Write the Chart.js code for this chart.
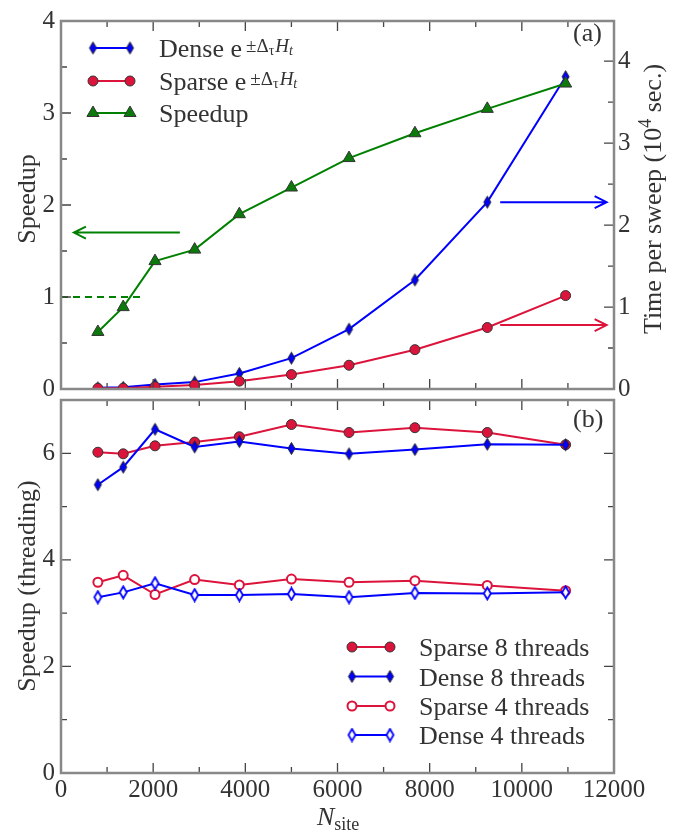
<!DOCTYPE html>
<html>
<head>
<meta charset="utf-8">
<script src="https://cdn.jsdelivr.net/npm/chart.js@4.4.0/dist/chart.umd.min.js"></script>
<style>
  html, body { margin: 0; padding: 0; background: #fff; }
  #wrap { position: relative; width: 695px; height: 836px; }
  #wrap canvas { position: absolute; left: 0; top: 0; }
</style>
</head>
<body>
<div id="wrap">
  <canvas id="topChart" width="695" height="836"></canvas>
  <canvas id="bottomChart" width="695" height="836"></canvas>
</div>
<script>
// N_site values (shared by both panels)
const nSite = [800, 1350, 2040, 2900, 3870, 5000, 6250, 7680, 9250, 10950];

// panel (a): time per sweep (10^4 sec.) and speedup
const denseTime = [0.015, 0.02, 0.056, 0.084, 0.19, 0.376, 0.73, 1.33, 2.28, 3.81];
const sparseTime = [0.008, 0.01, 0.028, 0.048, 0.096, 0.176, 0.29, 0.48, 0.75, 1.14];
const speedup = [0.62, 0.89, 1.39, 1.515, 1.90, 2.19, 2.51, 2.78, 3.045, 3.32];

// panel (b): threading speedup
const sparse8 = [6.02, 5.99, 6.14, 6.21, 6.31, 6.54, 6.39, 6.48, 6.39, 6.16];
const dense8 = [5.41, 5.74, 6.45, 6.12, 6.22, 6.09, 5.99, 6.07, 6.17, 6.16];
const sparse4 = [3.58, 3.71, 3.35, 3.63, 3.53, 3.64, 3.58, 3.61, 3.52, 3.42];
const dense4 = [3.30, 3.39, 3.56, 3.34, 3.34, 3.36, 3.30, 3.38, 3.37, 3.39];

// ticks
const xTicks = [0, 2000, 4000, 6000, 8000, 10000, 12000];
const xMinor = [1000, 3000, 5000, 7000, 9000, 11000];
const speedTicks = [0, 1, 2, 3, 4];
const speedMinor = [0.5, 1.5, 2.5, 3.5];
const timeTicks = [0, 1, 2, 3, 4];
const timeMinor = [0.5, 1.5, 2.5, 3.5];
const threadTicks = [0, 2, 4, 6];
const threadMinor = [1, 3, 5];

// reference line (speedup = 1) and arrows, in data units
const unityX = [0, 1780];
const unityLevel = 1;
const arrowFrom = [2580, 9530, 9530];
const arrowTo = [280, 11840, 11840];
const arrowLevel = [1.7, 2.28, 0.78];
const arrowAxis = ['y', 'y1', 'y1'];

const BLUE = '#0000ff', RED = '#dc143c', GREEN = '#008000';
const TEXT = '#333', FRAME = '#888';
const FONT = '"Liberation Serif", "DejaVu Serif", serif';

Chart.defaults.font.family = FONT;
Chart.defaults.color = TEXT;

function pts(ys) { return nSite.map((x, i) => ({ x: x, y: ys[i] })); }

function makeDiamond(fill, stroke, lw) {
  const c = document.createElement('canvas');
  c.width = 11; c.height = 15;
  const g = c.getContext('2d');
  g.beginPath();
  g.moveTo(5.5, 1.5); g.lineTo(9, 7.5); g.lineTo(5.5, 13.5); g.lineTo(2, 7.5); g.closePath();
  g.fillStyle = fill; g.fill();
  g.lineWidth = lw; g.strokeStyle = stroke; g.stroke();
  return c;
}
const diamondFull = makeDiamond(BLUE, '#222', 1);
const diamondOpen = makeDiamond('#fff', BLUE, 1.8);

function drawMarker(ctx, ds, x, y) {
  const st = ds.pointStyle;
  if (typeof st !== 'string') { ctx.drawImage(st, x - st.width / 2, y - st.height / 2); return; }
  ctx.fillStyle = ds.pointBackgroundColor;
  ctx.strokeStyle = ds.pointBorderColor;
  ctx.lineWidth = ds.pointBorderWidth;
  Chart.helpers.drawPoint(ctx, { pointStyle: st, radius: ds.pointRadius, rotation: 0, borderWidth: ds.pointBorderWidth }, x, y);
}

function drawRich(ctx, x, y, parts) {
  parts.forEach(p => {
    ctx.font = (p.italic ? 'italic ' : '') + p.size + 'px ' + FONT;
    x += p.dx || 0;
    ctx.fillText(p.t, x, y + (p.dy || 0));
    x += ctx.measureText(p.t).width;
  });
  return x;
}
function richWidth(ctx, parts) {
  let w = 0;
  parts.forEach(p => {
    ctx.font = (p.italic ? 'italic ' : '') + p.size + 'px ' + FONT;
    w += (p.dx || 0) + ctx.measureText(p.t).width;
  });
  return w;
}

function expParts(word) {
  return [
    { t: word + ' e', size: 26 },
    { t: '\u00b1\u0394', size: 19, dy: -5, dx: 4 },
    { t: '\u03c4', size: 14, dy: -2 },
    { t: 'H', size: 19, italic: true, dy: -5, dx: 1 },
    { t: 't', size: 14, italic: true, dy: -2 }
  ];
}

// frame with inward ticks on all four sides
function drawFrame(chart, left, right) {
  const { ctx, chartArea: a, scales } = chart;
  ctx.save();
  ctx.strokeStyle = '#444';
  ctx.lineWidth = 1.3;
  ctx.beginPath();
  const tick = (x1, y1, x2, y2) => { ctx.moveTo(x1, y1); ctx.lineTo(x2, y2); };
  const sx = scales.x;
  xTicks.forEach(v => { const p = sx.getPixelForValue(v); tick(p, a.top, p, a.top + 10); tick(p, a.bottom, p, a.bottom - 10); });
  xMinor.forEach(v => { const p = sx.getPixelForValue(v); tick(p, a.top, p, a.top + 6); tick(p, a.bottom, p, a.bottom - 6); });
  const sl = scales[left.id], sr = scales[right.id];
  left.major.forEach(v => { const p = sl.getPixelForValue(v); tick(a.left, p, a.left + 10, p); });
  left.minor.forEach(v => { const p = sl.getPixelForValue(v); tick(a.left, p, a.left + 6, p); });
  right.major.forEach(v => { const p = sr.getPixelForValue(v); tick(a.right, p, a.right - 10, p); });
  right.minor.forEach(v => { const p = sr.getPixelForValue(v); tick(a.right, p, a.right - 6, p); });
  ctx.stroke();
  ctx.strokeStyle = FRAME;
  ctx.lineWidth = 2.5;
  ctx.strokeRect(a.left, a.top, a.right - a.left, a.bottom - a.top);
  ctx.restore();
}

function drawArrow(ctx, x1, x2, y, color) {
  const dir = x2 > x1 ? 1 : -1;
  ctx.save();
  ctx.strokeStyle = color;
  ctx.lineWidth = 2;
  ctx.beginPath();
  ctx.moveTo(x1, y); ctx.lineTo(x2, y);
  ctx.moveTo(x2 - dir * 12, y - 6); ctx.lineTo(x2, y); ctx.lineTo(x2 - dir * 12, y + 6);
  ctx.stroke();
  ctx.restore();
}

const topPlugin = {
  id: 'topPanel',
  afterDraw(chart) {
    const { ctx, scales } = chart;
    drawFrame(chart, { id: 'y', major: speedTicks, minor: speedMinor }, { id: 'y1', major: timeTicks, minor: timeMinor });

    const colors = [GREEN, BLUE, RED];
    arrowFrom.forEach((f, i) => {
      const y = scales[arrowAxis[i]].getPixelForValue(arrowLevel[i]);
      drawArrow(ctx, scales.x.getPixelForValue(f), scales.x.getPixelForValue(arrowTo[i]), y, colors[i]);
    });

    // legend
    ctx.save();
    ctx.fillStyle = TEXT;
    ctx.textBaseline = 'alphabetic';
    const ds = chart.data.datasets;
    const rows = [[ds[0], 48, expParts('Dense')], [ds[1], 81, expParts('Sparse')], [ds[2], 113, [{ t: 'Speedup', size: 26 }]]];
    rows.forEach(([d, y, parts]) => {
      ctx.strokeStyle = d.borderColor; ctx.lineWidth = 2;
      ctx.beginPath(); ctx.moveTo(93, y); ctx.lineTo(130, y); ctx.stroke();
      drawMarker(ctx, d, 93, y); drawMarker(ctx, d, 130, y);
      ctx.fillStyle = TEXT;
      drawRich(ctx, 159, y + 9, parts);
    });

    ctx.font = '26px ' + FONT;
    ctx.fillText('(a)', 573, 41);

    // axis titles
    ctx.save();
    ctx.translate(35, 199);
    ctx.rotate(-Math.PI / 2);
    ctx.textAlign = 'center';
    ctx.fillText('Speedup', 0, 0);
    ctx.restore();

    const rt = [{ t: 'Time per sweep (10', size: 26 }, { t: '4', size: 18, dy: -10 }, { t: ' sec.)', size: 26 }];
    ctx.save();
    ctx.translate(661, 199);
    ctx.rotate(-Math.PI / 2);
    drawRich(ctx, -richWidth(ctx, rt) / 2, 0, rt);
    ctx.restore();
    ctx.restore();
  }
};

const bottomPlugin = {
  id: 'bottomPanel',
  afterDraw(chart) {
    const { ctx } = chart;
    drawFrame(chart, { id: 'y', major: threadTicks, minor: threadMinor }, { id: 'y', major: threadTicks, minor: threadMinor });

    ctx.save();
    ctx.textBaseline = 'alphabetic';
    const ds = chart.data.datasets;
    const ys = [647, 676.5, 706, 735];
    ds.forEach((d, i) => {
      const y = ys[i];
      ctx.strokeStyle = d.borderColor; ctx.lineWidth = 2;
      ctx.beginPath(); ctx.moveTo(352, y); ctx.lineTo(390, y); ctx.stroke();
      drawMarker(ctx, d, 352, y); drawMarker(ctx, d, 390, y);
      ctx.fillStyle = TEXT;
      ctx.font = '26px ' + FONT;
      ctx.fillText(d.label, 419, y + 9);
    });

    ctx.fillStyle = TEXT;
    ctx.font = '26px ' + FONT;
    ctx.fillText('(b)', 573, 427);

    ctx.save();
    ctx.translate(35, 586);
    ctx.rotate(-Math.PI / 2);
    ctx.textAlign = 'center';
    ctx.fillText('Speedup (threading)', 0, 0);
    ctx.restore();

    drawRich(ctx, 317, 825, [{ t: 'N', size: 26, italic: true }, { t: 'site', size: 18, dy: 5 }]);
    ctx.restore();
  }
};

const tickFont = { family: FONT, size: 25 };
const noGrid = { display: false, drawTicks: false };
const setTicks = list => s => { s.ticks = list.map(v => ({ value: v })); };
const plain = v => String(v);

new Chart(document.getElementById('topChart'), {
  type: 'line',
  data: {
    datasets: [
      { label: 'Dense', data: pts(denseTime), yAxisID: 'y1', borderColor: BLUE, borderWidth: 2,
        pointStyle: diamondFull, pointRadius: 6, order: 3 },
      { label: 'Sparse', data: pts(sparseTime), yAxisID: 'y1', borderColor: RED, borderWidth: 2,
        pointStyle: 'circle', pointRadius: 5, pointBackgroundColor: RED, pointBorderColor: '#333', pointBorderWidth: 1, order: 2 },
      { label: 'Speedup', data: pts(speedup), yAxisID: 'y', borderColor: GREEN, borderWidth: 2,
        pointStyle: 'triangle', pointRadius: 7, pointBackgroundColor: '#0b7a0b', pointBorderColor: '#333', pointBorderWidth: 1, order: 1 },
      { label: 'unity', data: unityX.map(x => ({ x: x, y: unityLevel })), yAxisID: 'y', borderColor: GREEN, borderWidth: 2,
        borderDash: [7, 5], pointRadius: 0, order: 4 }
    ]
  },
  options: {
    responsive: false,
    animation: false,
    events: [],
    layout: { padding: { top: 15 } },
    plugins: { legend: { display: false }, tooltip: { enabled: false } },
    scales: {
      x: { type: 'linear', min: 0, max: 12000, grid: noGrid, border: { display: false },
        ticks: { display: false }, afterFit: s => { s.height = 447; } },
      y: { position: 'left', min: 0, max: 4, grid: noGrid, border: { display: false },
        ticks: { font: tickFont, padding: 6, callback: plain }, afterBuildTicks: setTicks(speedTicks), afterFit: s => { s.width = 61; } },
      y1: { position: 'right', min: 0, max: 4.49, grid: noGrid, border: { display: false },
        ticks: { font: tickFont, padding: 4, callback: plain }, afterBuildTicks: setTicks(timeTicks), afterFit: s => { s.width = 81; } }
    }
  },
  plugins: [topPlugin]
});

new Chart(document.getElementById('bottomChart'), {
  type: 'line',
  data: {
    datasets: [
      { label: 'Sparse 8 threads', data: pts(sparse8), borderColor: RED, borderWidth: 2,
        pointStyle: 'circle', pointRadius: 5, pointBackgroundColor: RED, pointBorderColor: '#333', pointBorderWidth: 1, order: 4 },
      { label: 'Dense 8 threads', data: pts(dense8), borderColor: BLUE, borderWidth: 2,
        pointStyle: diamondFull, pointRadius: 6, order: 3 },
      { label: 'Sparse 4 threads', data: pts(sparse4), borderColor: RED, borderWidth: 2,
        pointStyle: 'circle', pointRadius: 4.5, pointBackgroundColor: '#fff', pointBorderColor: RED, pointBorderWidth: 2, order: 2 },
      { label: 'Dense 4 threads', data: pts(dense4), borderColor: BLUE, borderWidth: 2,
        pointStyle: diamondOpen, pointRadius: 6, order: 1 }
    ]
  },
  options: {
    responsive: false,
    animation: false,
    events: [],
    layout: { padding: { top: 400, right: 81 } },
    plugins: { legend: { display: false }, tooltip: { enabled: false } },
    scales: {
      x: { type: 'linear', min: 0, max: 12000, grid: noGrid, border: { display: false },
        ticks: { font: tickFont, padding: 2, maxRotation: 0, callback: plain }, afterBuildTicks: setTicks(xTicks),
        afterFit: s => { s.height = 63; } },
      y: { position: 'left', min: 0, max: 7, grid: noGrid, border: { display: false },
        ticks: { font: tickFont, padding: 6, callback: plain }, afterBuildTicks: setTicks(threadTicks), afterFit: s => { s.width = 61; } }
    }
  },
  plugins: [bottomPlugin]
});
</script>
</body>
</html>
